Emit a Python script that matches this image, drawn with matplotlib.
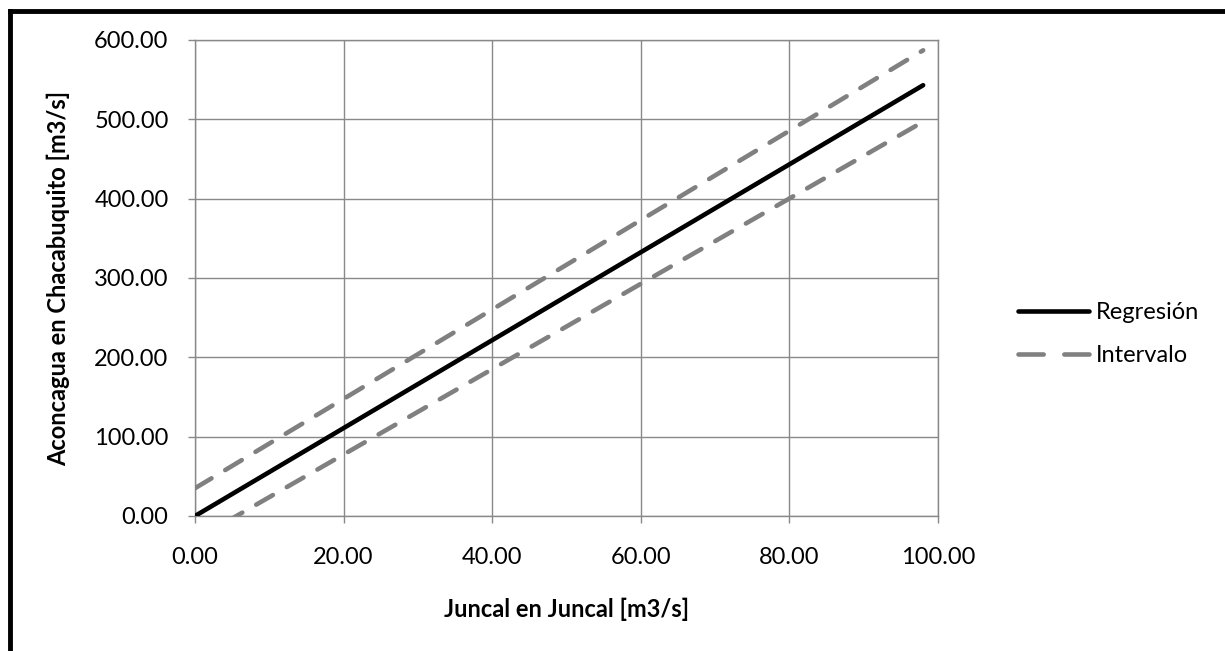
import matplotlib
matplotlib.use("Agg")
import matplotlib.pyplot as plt
from matplotlib.lines import Line2D

# Data
x_vals = [0.0, 98.0]
regresion = [0.0, 543.0]
intervalo_sup = [35.0, 587.0]
intervalo_inf = [-30.0, 497.0]
x_ticks = [0, 20, 40, 60, 80, 100]
y_ticks = [0, 100, 200, 300, 400, 500, 600]

plt.rcParams['font.family'] = ['Lato', 'DejaVu Sans']
FS = 17
LW = 3.3
DASH = (0, (4.2, 3.5))

fig = plt.figure(figsize=(12.25, 6.51), dpi=100)
ax = fig.add_axes([195/1225, (651-516)/651, (938-195)/1225, (516-40)/651])

grid_c = '#898989'
ax.plot(x_vals, intervalo_sup, color='#808080', lw=LW, ls=DASH,
        dash_capstyle='round', label='Intervalo', zorder=3)
ax.plot(x_vals, intervalo_inf, color='#808080', lw=LW, ls=DASH,
        dash_capstyle='round', zorder=3)
ax.plot(x_vals, regresion, color='black', lw=LW, solid_capstyle='round',
        label='Regresión', zorder=4)

ax.set_xlim(0, 100)
ax.set_ylim(0, 600)
ax.set_xticks(x_ticks)
ax.set_yticks(y_ticks)
ax.set_xticklabels([f"{v:.2f}" for v in x_ticks])
ax.set_yticklabels([f"{v:.2f}" for v in y_ticks])
ax.grid(True, color=grid_c, lw=1.0)
ax.set_axisbelow(True)
for s in ax.spines.values():
    s.set_color(grid_c)
    s.set_linewidth(1.0)
ax.tick_params(axis='both', direction='out', length=5, width=1.0, color=grid_c,
               labelsize=FS, labelcolor='black')
ax.tick_params(axis='x', pad=17)
ax.tick_params(axis='y', pad=14)

ax.set_xlabel('Juncal en Juncal [m3/s]', fontsize=FS, fontweight='bold', labelpad=22)
ax.set_ylabel('Aconcagua en Chacabuquito [m3/s]', fontsize=FS, fontweight='bold', labelpad=17)

handles = [Line2D([0], [0], color='black', lw=LW, solid_capstyle='round'),
           Line2D([0], [0], color='#808080', lw=LW, ls=(0, (5.5, 4.5)), dash_capstyle='round')]
leg = fig.legend(handles, ['Regresión', 'Intervalo'], loc='center left',
                 bbox_to_anchor=(997/1225, (651-334)/651), frameon=False,
                 fontsize=FS, handlelength=3.0, handletextpad=0.3, labelspacing=0.95)

# Figure border (top and left only visible)
fig.add_artist(Line2D([10/1225, 10/1225], [0, (651-11)/651], color='black', lw=3.5,
                      transform=fig.transFigure, solid_capstyle='projecting'))
fig.add_artist(Line2D([10/1225, 1], [(651-11)/651, (651-11)/651], color='black', lw=3.5,
                      transform=fig.transFigure, solid_capstyle='projecting'))

fig.savefig('out.png', dpi=100, facecolor='white')
